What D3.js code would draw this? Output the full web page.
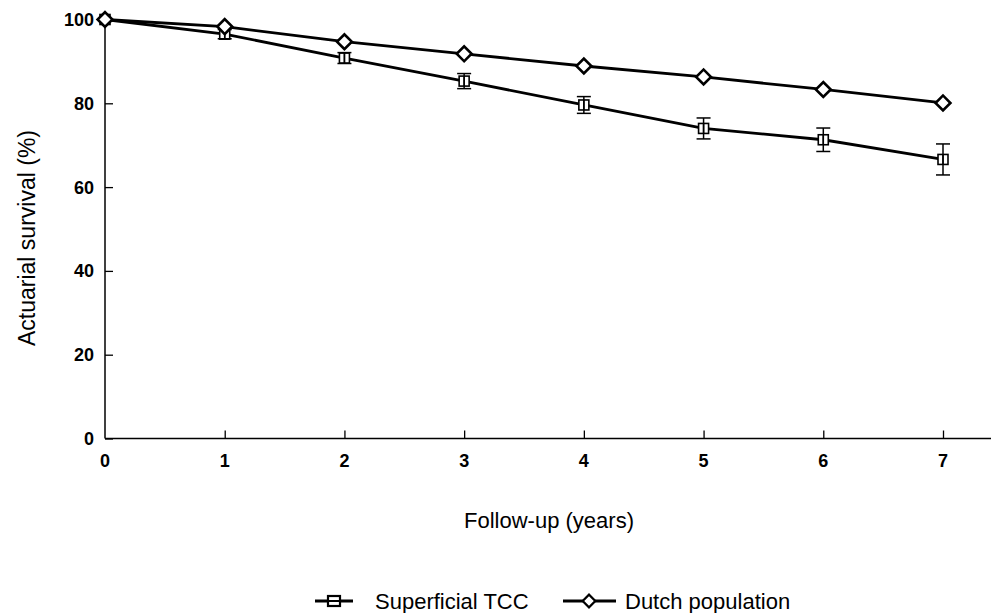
<!DOCTYPE html>
<html><head><meta charset="utf-8">
<script src="https://cdn.jsdelivr.net/npm/d3@7"></script>
<style>body{margin:0;background:#fff}svg{display:block}text{font-family:"Liberation Sans",Arial,sans-serif;fill:#000}</style>
</head><body><svg id="c" width="991" height="613"></svg>
<script>
const years = [0,1,2,3,4,5,6,7];
const tccValues = [100,96.5,90.8,85.3,79.6,74.0,71.3,66.6];
const tccErrors = [0,1.1,1.3,1.8,2.0,2.5,2.8,3.7];
const dutchValues = [100,98.3,94.7,91.8,88.9,86.3,83.3,80.1];
const yTicks = [0,20,40,60,80,100];
const xTicks = [0,1,2,3,4,5,6,7];

const svg = d3.select("#c");
const x = d3.scaleLinear().domain([0,7]).range([105,943]);
const y = d3.scaleLinear().domain([0,100]).range([438.5,19.5]);

// axes
const yAxis = svg.append("g").attr("transform","translate(105,0)")
  .call(d3.axisRight(y).tickValues(yTicks).tickSize(8).tickFormat(""));
yAxis.select(".domain").remove();
svg.append("line").attr("x1",105).attr("x2",105).attr("y1",y(100)).attr("y2",y(0)).attr("stroke","#000").attr("stroke-width",1.5);
yAxis.selectAll("line").attr("stroke-width",1.3);
svg.selectAll(".ylab").data(yTicks).enter().append("text")
  .attr("x",94).attr("y",d=>y(d)).attr("dy","0.36em").attr("text-anchor","end")
  .attr("font-size",18).attr("font-weight","bold").text(d=>d);

const xAxis = svg.append("g").attr("transform",`translate(0,${y(0)})`)
  .call(d3.axisTop(x).tickValues(xTicks.slice(1)).tickSize(8).tickFormat(""));
xAxis.select(".domain").remove();
xAxis.selectAll("line").attr("stroke-width",1.3);
svg.append("line").attr("x1",105).attr("x2",991).attr("y1",y(0)).attr("y2",y(0)).attr("stroke","#000").attr("stroke-width",1.5);
svg.selectAll(".xlab").data(xTicks).enter().append("text")
  .attr("x",d=>x(d)).attr("y",461).attr("dy","0.36em").attr("text-anchor","middle")
  .attr("font-size",18).attr("font-weight","bold").text(d=>d);

svg.append("text").attr("transform","translate(27,238) rotate(-90)").attr("text-anchor","middle")
  .attr("dy","0.36em").attr("font-size",23).text("Actuarial survival (%)");
svg.append("text").attr("x",549).attr("y",520).attr("text-anchor","middle").attr("dy","0.36em")
  .attr("font-size",22).text("Follow-up (years)");

const line = d3.line().x((d,i)=>x(years[i])).y(d=>y(d));
svg.append("path").datum(tccValues).attr("d",line).attr("fill","none").attr("stroke","#000").attr("stroke-width",2.8);
svg.append("path").datum(dutchValues).attr("d",line).attr("fill","none").attr("stroke","#000").attr("stroke-width",2.8);

// error bars
const eb = svg.append("g").attr("stroke","#000").attr("stroke-width",1.5);
tccValues.forEach((v,i)=>{
  const e = tccErrors[i]; if(!e) return;
  const cx = x(years[i]);
  eb.append("line").attr("x1",cx).attr("x2",cx).attr("y1",y(v+e)).attr("y2",y(v-e));
  eb.append("line").attr("x1",cx-7).attr("x2",cx+7).attr("y1",y(v+e)).attr("y2",y(v+e));
  eb.append("line").attr("x1",cx-7).attr("x2",cx+7).attr("y1",y(v-e)).attr("y2",y(v-e));
});
// square markers
svg.selectAll(".sq").data(tccValues).enter().append("rect")
  .attr("x",(d,i)=>x(years[i])-5).attr("y",d=>y(d)-5).attr("width",10).attr("height",10)
  .attr("fill","#fff").attr("stroke","#000").attr("stroke-width",1.6);
tccValues.forEach((v,i)=>{
  const e = tccErrors[i]; if(!e) return;
  const cx = x(years[i]);
  eb.append("line").attr("x1",cx).attr("x2",cx).attr("y1",y(v)-5).attr("y2",y(v)+5);
});
svg.node().appendChild(eb.node());
// diamond markers
const dsym = d3.symbol().type(d3.symbolSquare).size(110);
svg.selectAll(".dm").data(dutchValues).enter().append("path")
  .attr("d",dsym).attr("transform",(d,i)=>`translate(${x(years[i])},${y(d)}) rotate(45)`)
  .attr("fill","#fff").attr("stroke","#000").attr("stroke-width",2.6);

// legend
const lg = svg.append("g");
const ly = 601;
lg.append("line").attr("x1",315).attr("x2",353).attr("y1",ly).attr("y2",ly).attr("stroke","#000").attr("stroke-width",2.8);
lg.append("rect").attr("x",328).attr("y",ly-5).attr("width",12).attr("height",10).attr("fill","#fff").attr("stroke","#000").attr("stroke-width",2.2);
lg.append("line").attr("x1",328).attr("x2",340).attr("y1",ly).attr("y2",ly).attr("stroke","#000").attr("stroke-width",2);
lg.append("text").attr("x",375).attr("y",ly).attr("dy","0.36em").attr("font-size",22).text("Superficial TCC");
lg.append("line").attr("x1",563).attr("x2",616).attr("y1",ly).attr("y2",ly).attr("stroke","#000").attr("stroke-width",2.8);
lg.append("path").attr("d",d3.symbol().type(d3.symbolSquare).size(80)).attr("transform",`translate(589,${ly}) rotate(45)`)
  .attr("fill","#fff").attr("stroke","#000").attr("stroke-width",2.2);
lg.append("text").attr("x",625).attr("y",ly).attr("dy","0.36em").attr("font-size",22).text("Dutch population");
</script></body></html>
